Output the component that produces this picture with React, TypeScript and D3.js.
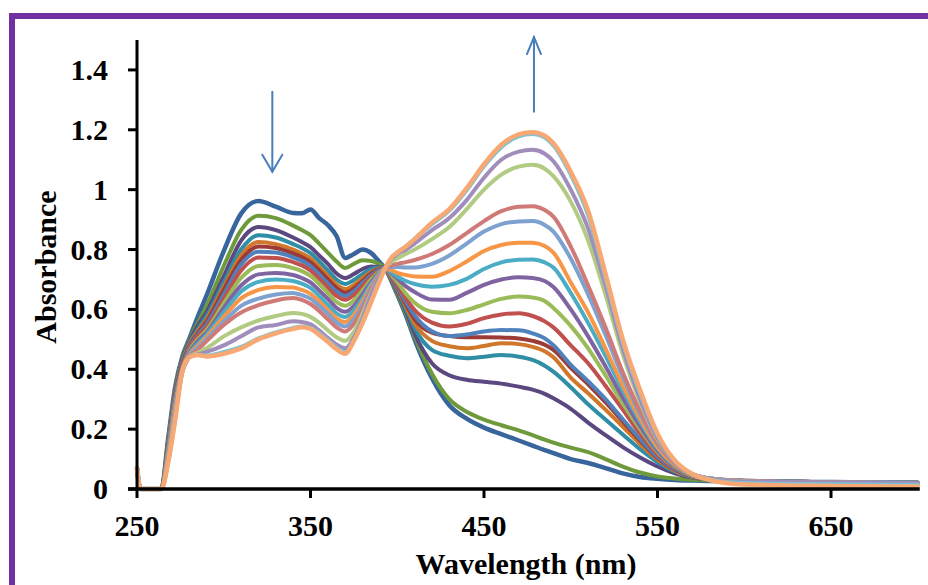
import React from "react";
import * as d3 from "d3";

// ---------- data ----------
const wavelengths = [
  250, 252, 264, 268, 272, 276, 280, 285, 290, 300, 310, 320, 330, 340, 345, 350, 355, 360, 365, 370, 375, 380, 385, 390, 393,
  397, 400, 405, 410, 420, 430, 440, 450, 460, 470, 478, 485, 490, 500, 510, 520, 530, 540, 550, 560, 570, 580, 600, 650, 700,
];

const abs01 = [
  0.07, 0, 0, 0.17, 0.34, 0.44, 0.5, 0.575, 0.645, 0.795, 0.92, 0.962, 0.943, 0.922, 0.921, 0.934, 0.905, 0.882, 0.845, 0.772, 0.785, 0.8, 0.788, 0.757, 0.737,
  0.69, 0.65, 0.58, 0.5, 0.37, 0.28, 0.235, 0.205, 0.183, 0.162, 0.145, 0.13, 0.12, 0.1, 0.087, 0.07, 0.052, 0.04, 0.034, 0.03, 0.028, 0.027, 0.025, 0.023, 0.021,
];
const abs02 = [
  0.07, 0, 0, 0.165, 0.335, 0.435, 0.495, 0.555, 0.61, 0.745, 0.865, 0.913, 0.905, 0.88, 0.865, 0.848, 0.82, 0.79, 0.76, 0.738, 0.752, 0.764, 0.762, 0.75, 0.738,
  0.692, 0.654, 0.587, 0.51, 0.385, 0.3, 0.258, 0.232, 0.213, 0.196, 0.18, 0.165, 0.155, 0.138, 0.123, 0.1, 0.075, 0.055, 0.042, 0.035, 0.031, 0.029, 0.026, 0.023, 0.021,
];
const abs03 = [
  0.07, 0, 0, 0.16, 0.33, 0.43, 0.49, 0.545, 0.59, 0.71, 0.83, 0.875, 0.865, 0.84, 0.825, 0.808, 0.78, 0.752, 0.72, 0.705, 0.718, 0.735, 0.743, 0.742, 0.737,
  0.695, 0.66, 0.595, 0.52, 0.42, 0.38, 0.365, 0.358, 0.352, 0.342, 0.332, 0.318, 0.303, 0.268, 0.222, 0.18, 0.14, 0.105, 0.075, 0.052, 0.038, 0.031, 0.027, 0.023, 0.021,
];
const abs04 = [
  0.07, 0, 0, 0.155, 0.325, 0.425, 0.485, 0.533, 0.577, 0.69, 0.8, 0.848, 0.84, 0.818, 0.805, 0.788, 0.76, 0.73, 0.7, 0.685, 0.698, 0.718, 0.735, 0.74, 0.737,
  0.697, 0.665, 0.603, 0.538, 0.465, 0.445, 0.437, 0.442, 0.448, 0.442, 0.431, 0.412, 0.392, 0.34, 0.283, 0.232, 0.182, 0.133, 0.09, 0.058, 0.04, 0.032, 0.027, 0.023, 0.021,
];
const abs05 = [
  0.07, 0, 0, 0.15, 0.32, 0.42, 0.48, 0.527, 0.566, 0.675, 0.78, 0.825, 0.818, 0.8, 0.787, 0.77, 0.742, 0.712, 0.683, 0.668, 0.682, 0.705, 0.725, 0.737, 0.737,
  0.7, 0.67, 0.61, 0.553, 0.495, 0.477, 0.47, 0.478, 0.487, 0.484, 0.475, 0.46, 0.44, 0.372, 0.32, 0.265, 0.208, 0.15, 0.098, 0.061, 0.041, 0.032, 0.027, 0.023, 0.021,
];
const abs06 = [
  0.07, 0, 0, 0.145, 0.315, 0.415, 0.475, 0.52, 0.558, 0.665, 0.765, 0.81, 0.805, 0.787, 0.775, 0.758, 0.73, 0.7, 0.672, 0.656, 0.67, 0.695, 0.72, 0.735, 0.737,
  0.703, 0.674, 0.617, 0.568, 0.522, 0.511, 0.507, 0.507, 0.506, 0.503, 0.495, 0.482, 0.465, 0.405, 0.35, 0.29, 0.226, 0.162, 0.104, 0.064, 0.042, 0.033, 0.027, 0.023, 0.021,
];
const abs07 = [
  0.07, 0, 0, 0.14, 0.31, 0.41, 0.47, 0.515, 0.55, 0.65, 0.75, 0.793, 0.79, 0.774, 0.762, 0.745, 0.717, 0.687, 0.66, 0.645, 0.66, 0.688, 0.715, 0.733, 0.737,
  0.705, 0.678, 0.625, 0.58, 0.527, 0.511, 0.516, 0.526, 0.531, 0.53, 0.52, 0.503, 0.48, 0.415, 0.36, 0.3, 0.233, 0.167, 0.107, 0.066, 0.043, 0.033, 0.027, 0.023, 0.021,
];
const abs08 = [
  0.07, 0, 0, 0.135, 0.3, 0.405, 0.465, 0.51, 0.54, 0.635, 0.73, 0.773, 0.772, 0.758, 0.747, 0.73, 0.702, 0.673, 0.645, 0.632, 0.648, 0.678, 0.708, 0.73, 0.737,
  0.709, 0.684, 0.637, 0.598, 0.556, 0.543, 0.552, 0.571, 0.583, 0.587, 0.578, 0.56, 0.54, 0.48, 0.42, 0.345, 0.265, 0.185, 0.115, 0.07, 0.044, 0.034, 0.027, 0.023, 0.021,
];
const abs09 = [
  0.07, 0, 0, 0.13, 0.295, 0.4, 0.46, 0.5, 0.53, 0.62, 0.705, 0.745, 0.748, 0.738, 0.728, 0.712, 0.685, 0.655, 0.625, 0.612, 0.63, 0.663, 0.7, 0.727, 0.737,
  0.713, 0.692, 0.652, 0.622, 0.592, 0.587, 0.598, 0.617, 0.635, 0.643, 0.64, 0.628, 0.605, 0.545, 0.47, 0.38, 0.285, 0.2, 0.123, 0.073, 0.045, 0.034, 0.027, 0.023, 0.021,
];
const abs10 = [
  0.07, 0, 0, 0.125, 0.29, 0.4, 0.455, 0.493, 0.522, 0.605, 0.68, 0.717, 0.722, 0.715, 0.705, 0.69, 0.663, 0.635, 0.605, 0.592, 0.612, 0.65, 0.692, 0.724, 0.737,
  0.718, 0.703, 0.677, 0.658, 0.633, 0.632, 0.655, 0.682, 0.7, 0.707, 0.705, 0.695, 0.675, 0.6, 0.51, 0.41, 0.305, 0.21, 0.128, 0.075, 0.046, 0.035, 0.028, 0.023, 0.021,
];
const abs11 = [
  0.07, 0, 0, 0.12, 0.28, 0.395, 0.45, 0.485, 0.515, 0.59, 0.66, 0.692, 0.7, 0.695, 0.686, 0.672, 0.645, 0.615, 0.587, 0.575, 0.597, 0.638, 0.685, 0.722, 0.737,
  0.722, 0.71, 0.695, 0.685, 0.676, 0.682, 0.702, 0.735, 0.757, 0.766, 0.767, 0.757, 0.74, 0.655, 0.555, 0.445, 0.33, 0.225, 0.135, 0.078, 0.047, 0.035, 0.027, 0.023, 0.021,
];
const abs12 = [
  0.07, 0, 0, 0.115, 0.275, 0.395, 0.447, 0.478, 0.507, 0.575, 0.637, 0.665, 0.675, 0.673, 0.665, 0.652, 0.627, 0.597, 0.57, 0.558, 0.582, 0.627, 0.678, 0.72, 0.737,
  0.73, 0.722, 0.715, 0.71, 0.709, 0.728, 0.76, 0.795, 0.815, 0.823, 0.823, 0.812, 0.79, 0.69, 0.59, 0.47, 0.345, 0.235, 0.14, 0.08, 0.048, 0.035, 0.027, 0.022, 0.02,
];
const abs13 = [
  0.07, 0, 0, 0.11, 0.27, 0.39, 0.444, 0.472, 0.5, 0.56, 0.612, 0.636, 0.65, 0.655, 0.648, 0.636, 0.612, 0.585, 0.557, 0.543, 0.568, 0.615, 0.672, 0.718, 0.737,
  0.742, 0.742, 0.74, 0.74, 0.752, 0.78, 0.82, 0.86, 0.885, 0.894, 0.895, 0.882, 0.86, 0.77, 0.65, 0.515, 0.375, 0.25, 0.15, 0.085, 0.05, 0.035, 0.027, 0.022, 0.02,
];
const abs14 = [
  0.07, 0, 0, 0.105, 0.26, 0.39, 0.44, 0.465, 0.493, 0.548, 0.59, 0.614, 0.63, 0.638, 0.632, 0.618, 0.595, 0.567, 0.54, 0.526, 0.552, 0.603, 0.665, 0.716, 0.737,
  0.748, 0.752, 0.758, 0.765, 0.785, 0.815, 0.855, 0.895, 0.928, 0.943, 0.945, 0.932, 0.91, 0.81, 0.68, 0.54, 0.39, 0.26, 0.155, 0.085, 0.05, 0.035, 0.027, 0.022, 0.02,
];
const abs15 = [
  0.07, 0, 0, 0.1, 0.25, 0.39, 0.44, 0.455, 0.47, 0.51, 0.54, 0.563, 0.578, 0.588, 0.585, 0.575, 0.555, 0.53, 0.507, 0.495, 0.525, 0.585, 0.655, 0.714, 0.737,
  0.76, 0.77, 0.785, 0.8, 0.835, 0.875, 0.935, 1.0, 1.05, 1.077, 1.083, 1.07, 1.045, 0.96, 0.83, 0.65, 0.45, 0.29, 0.165, 0.09, 0.05, 0.035, 0.025, 0.02, 0.02,
];
const abs16 = [
  0.07, 0, 0, 0.095, 0.24, 0.39, 0.44, 0.45, 0.458, 0.48, 0.51, 0.54, 0.548, 0.56, 0.558, 0.55, 0.53, 0.505, 0.483, 0.47, 0.505, 0.57, 0.648, 0.712, 0.737,
  0.77, 0.785, 0.8, 0.82, 0.865, 0.905, 0.965, 1.04, 1.1, 1.127, 1.133, 1.12, 1.095, 1.0, 0.87, 0.68, 0.47, 0.3, 0.17, 0.09, 0.05, 0.035, 0.025, 0.022, 0.02,
];
const abs17 = [
  0.07, 0, 0, 0.09, 0.235, 0.39, 0.44, 0.448, 0.446, 0.458, 0.475, 0.503, 0.523, 0.538, 0.543, 0.538, 0.52, 0.497, 0.472, 0.457, 0.495, 0.558, 0.63, 0.7, 0.737,
  0.775, 0.79, 0.81, 0.835, 0.885, 0.93, 0.998, 1.078, 1.142, 1.178, 1.186, 1.174, 1.148, 1.05, 0.915, 0.705, 0.49, 0.32, 0.18, 0.093, 0.05, 0.032, 0.02, 0.016, 0.014,
];
const abs18 = [
  0.07, 0, 0, 0.09, 0.23, 0.39, 0.44, 0.448, 0.443, 0.452, 0.47, 0.5, 0.52, 0.535, 0.54, 0.535, 0.515, 0.492, 0.467, 0.452, 0.495, 0.555, 0.625, 0.697, 0.737,
  0.775, 0.79, 0.81, 0.835, 0.89, 0.935, 1.005, 1.085, 1.15, 1.185, 1.192, 1.18, 1.155, 1.06, 0.93, 0.72, 0.5, 0.33, 0.185, 0.095, 0.05, 0.03, 0.015, 0.01, 0.008,
];

const seriesValues = [
  abs01, abs02, abs03, abs04, abs05, abs06, abs07, abs08, abs09,
  abs10, abs11, abs12, abs13, abs14, abs15, abs16, abs17, abs18,
];

const seriesColors = [
  "#38669c", "#6f9a3b", "#5c4880", "#2f8ea6", "#d0772b", "#9c3a36",
  "#4f81bd", "#c0504d", "#9bbb59", "#8064a2", "#4bacc6", "#f79646",
  "#7ea2cf", "#d07a78", "#b2cb83", "#a08dbb", "#7cc2d6", "#f8a872",
];

const xTicks = [250, 350, 450, 550, 650];
const yTicks = [0, 0.2, 0.4, 0.6, 0.8, 1, 1.2, 1.4];
const yTickLabels = ["0", "0.2", "0.4", "0.6", "0.8", "1", "1.2", "1.4"];

// ---------- layout ----------
const W = 928;
const H = 585;
const X0 = 137;
const X1 = 917.75;
const Y0 = 489;
const Y1 = 40;
const FONT = "'Liberation Serif', 'Times New Roman', serif";

export default function App() {
  const x = d3.scaleLinear().domain([250, 700]).range([X0, X1]);
  const y = d3.scaleLinear().domain([0, 1.5]).range([Y0, Y1]);

  const line = d3
    .line<number>()
    .x((_, i) => x(wavelengths[i]))
    .y((d) => y(d))
    .curve(d3.curveMonotoneX);

  const downX = x(328);
  const upX = x(478.8);

  return (
    <svg
      width={W}
      height={H}
      style={{ position: "absolute", left: 0, top: 0, display: "block", background: "#fff" }}
    >
      <rect x={0} y={0} width={W} height={H} fill="#fff" />
      {/* purple frame */}
      <rect x={12} y={16} width={W + 20} height={H + 20} fill="none" stroke="#7030a0" strokeWidth={6} />

      {/* spectra */}
      {seriesValues.map((vals, i) => (
        <path
          key={"s" + i}
          d={line(vals) || ""}
          fill="none"
          stroke={seriesColors[i]}
          strokeWidth={i === 0 || i === seriesValues.length - 1 ? 4.5 : 4}
          strokeLinejoin="round"
          strokeLinecap="round"
        />
      ))}

      {/* axes */}
      <line x1={X0} x2={X0} y1={Y1} y2={Y0 + 1} stroke="#000" strokeWidth={3} />
      <line x1={X0 - 9} x2={X1 + 2} y1={Y0} y2={Y0} stroke="#000" strokeWidth={3.5} />
      {yTicks.map((t) => (
        <line key={"yt" + t} x1={X0 - 9} x2={X0} y1={y(t)} y2={y(t)} stroke="#000" strokeWidth={3} />
      ))}
      {xTicks.map((t) => (
        <line key={"xt" + t} x1={x(t)} x2={x(t)} y1={Y0} y2={Y0 + 9} stroke="#000" strokeWidth={3} />
      ))}
      {yTicks.map((t, i) => (
        <text
          key={"yl" + t}
          x={108}
          y={y(t) + 10}
          textAnchor="end"
          fontFamily={FONT}
          fontWeight="bold"
          fontSize={30}
          fill="#000"
        >
          {yTickLabels[i]}
        </text>
      ))}
      {xTicks.map((t) => (
        <text
          key={"xl" + t}
          x={x(t)}
          y={536}
          textAnchor="middle"
          fontFamily={FONT}
          fontWeight="bold"
          fontSize={30}
          fill="#000"
        >
          {t}
        </text>
      ))}
      <text
        x={526}
        y={574}
        textAnchor="middle"
        fontFamily={FONT}
        fontWeight="bold"
        fontSize={30}
        fill="#000"
      >
        Wavelength (nm)
      </text>
      <text
        transform="translate(56,267) rotate(-90)"
        textAnchor="middle"
        fontFamily={FONT}
        fontWeight="bold"
        fontSize={30}
        fill="#000"
      >
        Absorbance
      </text>

      {/* arrows */}
      <g stroke="#4a7ebb" strokeWidth={2} fill="none" strokeLinecap="round">
        <line x1={downX} x2={downX} y1={y(1.327)} y2={y(1.06)} />
        <polyline points={`${downX - 10},${y(1.06) - 17} ${downX},${y(1.06)} ${downX + 10},${y(1.06) - 17}`} />
        <line x1={upX} x2={upX} y1={y(1.26)} y2={y(1.51)} />
        <polyline points={`${upX - 7},${y(1.51) + 17} ${upX},${y(1.51)} ${upX + 7},${y(1.51) + 17}`} />
      </g>
    </svg>
  );
}
